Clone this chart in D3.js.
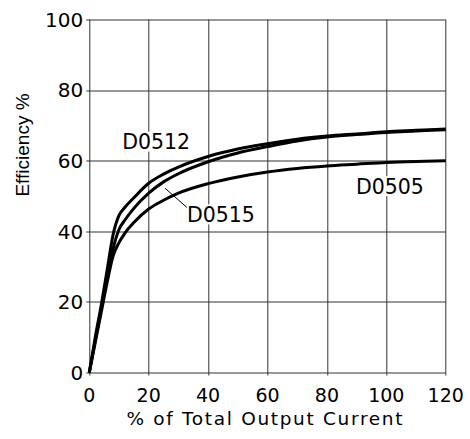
<!DOCTYPE html>
<html>
<head>
<meta charset="utf-8">
<script src="https://cdn.jsdelivr.net/npm/d3@7"></script>
<style>
  body { margin: 0; background: #fff; }
  svg { display: block; }
</style>
</head>
<body>
<div id="chart"></div>
<script>
// % of total output current
const current = [0, 2, 4, 6, 8, 10, 12, 15, 20, 25, 30, 40, 50, 60, 70, 80, 90, 100, 110, 120];
// efficiency % per model
const effD0512 = [0, 10, 19, 29, 39, 44.5, 46.8, 49.5, 53.6, 56.2, 58.2, 61.2, 63.3, 64.8, 66.1, 67, 67.6, 68.2, 68.6, 69];
const effD0515 = [0, 9, 18, 27, 35, 40.5, 43.2, 46.5, 50.8, 54, 56.3, 59.7, 62.2, 64, 65.6, 66.7, 67.4, 68, 68.4, 68.8];
const effD0505 = [0, 8.5, 17, 25.5, 33, 36.8, 39.5, 42.5, 46.3, 48.8, 50.8, 53.5, 55.4, 56.8, 57.8, 58.5, 59, 59.5, 59.8, 60];
const seriesNames = ["D0512", "D0515", "D0505"];
const xTicks = [0, 20, 40, 60, 80, 100, 120];
const yTicks = [0, 20, 40, 60, 80, 100];

const width = 470, height = 439;
const margin = { top: 19.5, right: 24.3, bottom: 66.5, left: 89.3 };
const iw = width - margin.left - margin.right;
const ih = height - margin.top - margin.bottom;

const svg = d3.select("#chart").append("svg")
  .attr("width", width)
  .attr("height", height);

const g = svg.append("g").attr("transform", `translate(${margin.left},${margin.top})`);

const x = d3.scaleLinear().domain([0, 120]).range([0, iw]);
const y = d3.scaleLinear().domain([0, 100]).range([ih, 0]);

// grid
g.append("g").selectAll("line").data(xTicks).join("line")
  .attr("x1", d => Math.round(x(d)) + 0.5).attr("x2", d => Math.round(x(d)) + 0.5)
  .attr("y1", 0).attr("y2", ih + 3)
  .attr("stroke", "#333").attr("stroke-width", 1);
g.append("g").selectAll("line").data(yTicks).join("line")
  .attr("x1", -3).attr("x2", iw)
  .attr("y1", d => Math.round(y(d)) + 0.5).attr("y2", d => Math.round(y(d)) + 0.5)
  .attr("stroke", "#333").attr("stroke-width", 1);

// tick labels
g.append("g").selectAll("text").data(xTicks).join("text")
  .attr("x", d => x(d))
  .attr("y", ih + 29)
  .attr("text-anchor", "middle")
  .attr("font-family", "DejaVu Sans")
  .attr("font-size", 19)
  .text(d => d);
g.append("g").selectAll("text").data(yTicks).join("text")
  .attr("x", -6)
  .attr("y", d => y(d))
  .attr("dy", "0.36em")
  .attr("text-anchor", "end")
  .attr("font-family", "DejaVu Sans")
  .attr("font-size", 20)
  .text(d => d);

// lines
const line = d3.line()
  .x((d, i) => x(current[i]))
  .y(d => y(d))
  .curve(d3.curveMonotoneX);

const allSeries = [effD0512, effD0515, effD0505];

// series labels with white boxes (drawn under the curves)
const labelPos = [
  { name: seriesNames[0], cx: 22.5, cy: 65.4 },
  { name: seriesNames[1], cx: 44.3, cy: 44.8 },
  { name: seriesNames[2], cx: 101.2, cy: 52.8 }
];
const lab = g.append("g").selectAll("g").data(labelPos).join("g")
  .attr("transform", d => `translate(${x(d.cx)},${y(d.cy)})`);
lab.append("rect")
  .attr("x", -35).attr("y", -10).attr("width", 70).attr("height", 20)
  .attr("fill", "#fff");
lab.append("text")
  .attr("text-anchor", "middle")
  .attr("dy", "0.36em")
  .attr("font-family", "DejaVu Sans")
  .attr("font-size", 20.5)
  .text(d => d.name);

g.append("g").selectAll("path").data(allSeries).join("path")
  .attr("d", line)
  .attr("fill", "none")
  .attr("stroke", "#000")
  .attr("stroke-width", 3)
  .attr("stroke-linejoin", "round");

// leader line for D0515
g.append("line")
  .attr("x1", x(25.5)).attr("y1", y(52.2))
  .attr("x2", x(32.8)).attr("y2", y(46.8))
  .attr("stroke", "#000").attr("stroke-width", 1);

// axis titles
svg.append("text")
  .attr("x", margin.left + iw / 2 - 3)
  .attr("y", 425)
  .attr("text-anchor", "middle")
  .attr("font-family", "DejaVu Sans")
  .attr("font-size", 18.5)
  .attr("textLength", 276)
  .attr("lengthAdjust", "spacing")
  .text("% of Total Output Current");
svg.append("text")
  .attr("transform", `translate(29,145) rotate(-90)`)
  .attr("text-anchor", "middle")
  .attr("font-family", "Liberation Sans")
  .attr("font-size", 19)
  .text("Efficiency %");
</script>
</body>
</html>
